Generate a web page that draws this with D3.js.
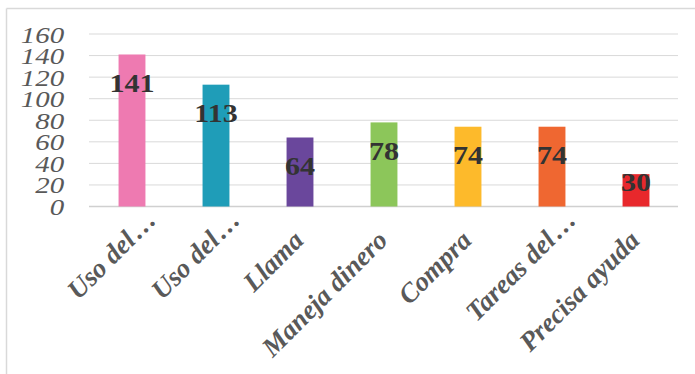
<!DOCTYPE html>
<html>
<head>
<meta charset="utf-8">
<script src="https://cdn.jsdelivr.net/npm/d3@7"></script>
<style>
  html, body { margin: 0; padding: 0; background: #fff; }
  svg { display: block; }
</style>
</head>
<body>
<svg id="chart" width="695" height="374"></svg>
<script>
// Activity categories and counts
const categories = ["Uso del…", "Uso del…", "Llama", "Maneja dinero", "Compra", "Tareas del…", "Precisa ayuda"];
const values = [141, 113, 64, 78, 74, 74, 30];
const barColors = ["#EE7AB1", "#1F9DB8", "#6A479C", "#8CC65A", "#FDBA2B", "#EF6731", "#E8282C"];
const yTicks = [0, 20, 40, 60, 80, 100, 120, 140, 160];

const W = 695, H = 374;
const FONT = "'Liberation Serif', 'Times New Roman', serif";
const stretch = 1.23;       // horizontal widening of the numeric lettering
const svg = d3.select("#chart");

// Frame (top and left edges)
svg.append("line").attr("x1", 6.5).attr("x2", W).attr("y1", 8.5).attr("y2", 8.5)
  .attr("stroke", "#d9d9d9").attr("stroke-width", 1.5);
svg.append("line").attr("x1", 6.5).attr("x2", 6.5).attr("y1", 8.5).attr("y2", H)
  .attr("stroke", "#d9d9d9").attr("stroke-width", 1.5);

const x = d3.scaleBand()
  .domain(d3.range(categories.length))
  .range([90, 678])
  .paddingInner(0.68)
  .paddingOuter(0.34);

const y = d3.scaleLinear().domain([0, 160]).range([206.5, 34]);

// Gridlines
svg.append("g")
  .selectAll("line")
  .data(yTicks)
  .join("line")
  .attr("x1", 89).attr("x2", 678)
  .attr("y1", d => y(d)).attr("y2", d => y(d))
  .attr("stroke", d => d === 0 ? "#d0d0d0" : "#d9d9d9")
  .attr("stroke-width", d => d === 0 ? 1.5 : 1);

// Y axis labels
const yAxis = svg.append("g")
  .attr("transform", "translate(90,0)")
  .call(d3.axisLeft(y).tickValues(yTicks).tickSize(0).tickPadding(0));
yAxis.select(".domain").remove();
yAxis.selectAll("text")
  .attr("x", -21)
  .attr("dy", "0.34em")
  .attr("transform", `scale(${stretch},1)`)
  .attr("text-anchor", "end")
  .style("font-family", FONT)
  .style("font-style", "italic")
  .style("font-size", "23.5px")
  .attr("fill", "#595959");

// Bars
svg.append("g")
  .selectAll("rect")
  .data(values)
  .join("rect")
  .attr("x", (d, i) => x(i))
  .attr("width", x.bandwidth())
  .attr("y", d => y(d))
  .attr("height", d => y(0) - y(d))
  .attr("fill", (d, i) => barColors[i]);

// Value labels inside the bar tops (short bars get them nearer the top)
svg.append("g")
  .selectAll("text")
  .data(values)
  .join("text")
  .attr("transform", (d, i) => {
    const h = y(0) - y(d);
    const cy = y(d) + Math.min(29, Math.max(8, h - 24));
    return `translate(${x(i) + x.bandwidth() / 2},${cy}) scale(${stretch},1)`;
  })
  .attr("dy", "0.35em")
  .attr("text-anchor", "middle")
  .style("font-family", FONT)
  .style("font-weight", "bold")
  .style("font-size", "24.5px")
  .attr("fill", "#333333")
  .text(d => d);

// Rotated category labels; a trailing ellipsis hangs past the anchor
const xl = svg.append("g");
categories.forEach((c, i) => {
  const cx = x(i) + x.bandwidth() / 2;
  const g = xl.append("g")
    .attr("transform", `translate(${cx + 5},${242}) rotate(-45)`);
  const truncated = c.endsWith("…");
  const main = truncated ? c.slice(0, -1) : c;
  g.append("text")
    .attr("text-anchor", "end")
    .style("font-family", FONT)
    .style("font-weight", "bold")
    .style("font-style", "italic")
    .style("font-size", "27px")
    .attr("fill", "#595959")
    .text(main);
  if (truncated) {
    g.append("text")
      .attr("x", 2)
      .attr("text-anchor", "start")
      .style("font-family", FONT)
      .style("font-weight", "bold")
      .style("font-style", "italic")
      .style("font-size", "27px")
      .attr("fill", "#595959")
      .text("…");
  }
});
</script>
</body>
</html>
